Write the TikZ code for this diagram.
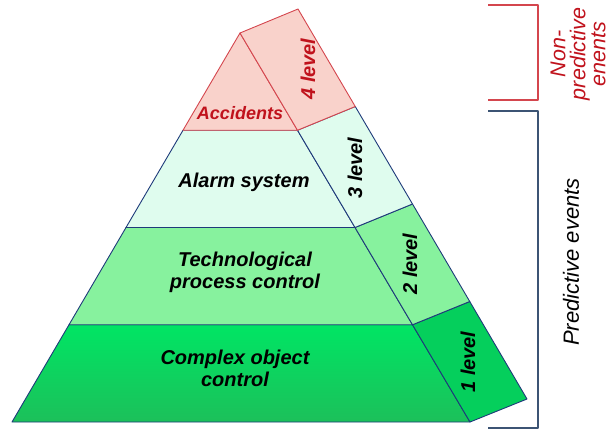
\documentclass[tikz,border=0pt]{standalone}
\usepackage{fontspec}
\setmainfont{Liberation Sans}
\usetikzlibrary{calc}
\definecolor{redline}{HTML}{D4464E}
\definecolor{redfill}{HTML}{F9D2CB}
\definecolor{redtext}{HTML}{C0121C}
\definecolor{navy}{HTML}{1E3A7A}
\definecolor{mint}{HTML}{DFFCEE}
\definecolor{lightgreen}{HTML}{87F29E}
\definecolor{greentop}{HTML}{00E564}
\definecolor{greenbot}{HTML}{1CC05A}
\definecolor{greenside}{HTML}{05CF5C}
\definecolor{bracketblue}{HTML}{3C5474}
\begin{document}
\begin{tikzpicture}[x=1pt, y=-1pt, line width=0.9pt, line join=round,
	lab/.style={font=\bfseries\itshape\fontsize{20}{22}\selectfont, align=center},
	lev/.style={lab, rotate=90},
	side/.style={font=\itshape\fontsize{21.5}{20}\selectfont, align=center, rotate=90}]
	\useasboundingbox (0,0) rectangle (613,429);
	% corners of the pyramid
	\coordinate (top) at (240,33);
	\coordinate (back) at (298,9);
	\coordinate (bl) at (12,422);
	\coordinate (br) at (470,422);
	\coordinate (bb) at (527,399);
	% level borders
	\coordinate (fl4) at ($(top)!0.25!(bl)$);
	\coordinate (fl3) at ($(top)!0.5!(bl)$);
	\coordinate (fl2) at ($(top)!0.75!(bl)$);
	\coordinate (fr4) at ($(top)!0.25!(br)$);
	\coordinate (fr3) at ($(top)!0.5!(br)$);
	\coordinate (fr2) at ($(top)!0.75!(br)$);
	\coordinate (bk4) at ($(back)!0.25!(bb)$);
	\coordinate (bk3) at ($(back)!0.5!(bb)$);
	\coordinate (bk2) at ($(back)!0.75!(bb)$);
	% level 1
	\shade[top color=greentop, bottom color=greenbot] (bl) -- (br) -- (fr2) -- (fl2) -- cycle;
	\draw[navy] (bl) -- (br) -- (fr2) -- (fl2) -- cycle;
	\draw[navy, fill=greenside] (br) -- (bb) -- (bk2) -- (fr2) -- cycle;
	% level 2
	\draw[navy, fill=lightgreen] (fl2) -- (fr2) -- (fr3) -- (fl3) -- cycle;
	\draw[navy, fill=lightgreen] (fr2) -- (bk2) -- (bk3) -- (fr3) -- cycle;
	% level 3
	\draw[navy, fill=mint] (fl3) -- (fr3) -- (fr4) -- (fl4) -- cycle;
	\draw[navy, fill=mint] (fr3) -- (bk3) -- (bk4) -- (fr4) -- cycle;
	% level 4
	\draw[redline, fill=redfill] (fl4) -- (fr4) -- (top) -- cycle;
	\draw[redline, fill=redfill] (fr4) -- (bk4) -- (back) -- (top) -- cycle;
	% texts on the front
	\node[lab, text=redtext, font=\bfseries\itshape\fontsize{18}{20}\selectfont] (acc) at (240,113) {Accidents};
	\node[lab] (alarm) at (244,182) {Alarm system};
	\node[lab] (tech) at (245,272) {Technological\\process control};
	\node[lab] (obj) at (235,368) {Complex object\\control};
	% texts on the side
	\node[lev, text=redtext] (lev4) at (308,69) {4 level};
	\node[lev] (lev3) at (355,168) {3 level};
	\node[lev] (lev2) at (410,264) {2 level};
	\node[lev] (lev1) at (468,362) {1 level};
	% brackets
	\coordinate (rtop) at (488,5);
	\coordinate (rbot) at (488,100);
	\coordinate (btop) at (488,111);
	\coordinate (bbot) at (488,428);
	\draw[redline, line width=1.2pt] (rtop) -- ++(50,0) |- (rbot);
	\draw[bracketblue, line width=1.2pt] (btop) -- ++(50,0) |- (bbot);
	\node[side, text=redtext] (nonpred) at (578,54) {Non-\\predictive\\enents};
	\node[side, font=\itshape\fontsize{22}{22}\selectfont] (pred) at (571,262) {Predictive events};
\end{tikzpicture}
\end{document}
